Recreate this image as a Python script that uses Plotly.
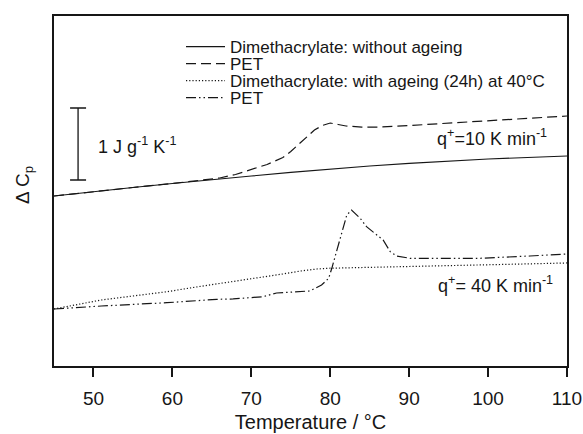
import plotly.graph_objects as go

# ---------------- data (ΔCp in J g^-1 K^-1, arbitrary offset) ----------------
T_dm10 = [45, 50, 55, 60, 65, 70, 75, 80, 85, 90, 95, 100, 105, 110]
cp_dm10 = [2.361, 2.424, 2.479, 2.535, 2.590, 2.639, 2.688, 2.736, 2.778, 2.813, 2.847, 2.875, 2.896, 2.917]

T_pet10 = [45, 50, 55, 60, 64, 66, 68, 70, 72, 73, 74, 75, 76, 77, 78, 79, 80, 81, 82, 84, 86, 90, 95, 100, 105, 110]
cp_pet10 = [2.361, 2.424, 2.479, 2.535, 2.579, 2.611, 2.660, 2.725, 2.799, 2.847, 2.896, 2.979, 3.078, 3.188,
            3.278, 3.340, 3.375, 3.354, 3.333, 3.319, 3.319, 3.340, 3.375, 3.403, 3.438, 3.472]

T_dm40 = [45, 51, 55, 59.3, 63, 67.7, 71, 74, 76.2, 78.3, 80, 82.5, 86.3, 90, 95, 100, 105, 110]
cp_dm40 = [0.792, 0.917, 0.972, 1.032, 1.097, 1.171, 1.229, 1.278, 1.319, 1.347, 1.358, 1.365, 1.368,
           1.379, 1.392, 1.406, 1.418, 1.431]

T_pet40 = [45, 51, 59.3, 65.6, 67.7, 69.8, 71.5, 73.2, 75.3, 77.4, 78.9, 79.8, 80.2, 80.6, 81.0, 81.45,
           82.1, 82.7, 83.8, 84.6, 85.9, 86.7, 87.6, 88.4, 90.1, 95, 99, 105.3, 110]
cp_pet40 = [0.792, 0.833, 0.879, 0.926, 0.931, 0.954, 0.963, 1.014, 1.032, 1.042, 1.125, 1.218, 1.357,
            1.518, 1.681, 1.865, 2.097, 2.167, 2.051, 1.935, 1.819, 1.750, 1.588, 1.528, 1.496, 1.493,
            1.496, 1.528, 1.556]

names = ["Dimethacrylate: without ageing", "PET",
         "Dimethacrylate: with ageing (24h) at 40°C", "PET"]

# scale bar: 1 J g^-1 K^-1
scale_T = [48.05]
scale_mid = [3.083]
scale_len = 1.0

x_ticks = [50, 60, 70, 80, 90, 100, 110]

FONT = "Liberation Sans, Arial, Helvetica, sans-serif"
INK = "#161616"

fig = go.Figure()
series = [
    (T_dm10, cp_dm10, "solid", "legend"),
    (T_pet10, cp_pet10, "10px,5px", "legend2"),
    (T_dm40, cp_dm40, "1.2px,2px", "legend3"),
    (T_pet40, cp_pet40, "10px,3px,1.5px,3px,1.5px,3px", "legend4"),
]
for (xs, ys, dash, lg), nm in zip(series, names):
    fig.add_trace(go.Scatter(x=xs, y=ys, mode="lines", name=nm, legend=lg,
                             line=dict(color=INK, width=1.2, dash=dash)))

fig.add_trace(go.Scatter(x=scale_T, y=scale_mid, mode="markers", showlegend=False,
                         marker=dict(size=1, color="rgba(0,0,0,0)"),
                         error_y=dict(type="constant", value=scale_len / 2, width=8,
                                      thickness=1.3, color=INK)))

# plot area px: x 54..567, y 16..366
def legend_cfg(ypx):
    return dict(x=(181 - 54) / 513, y=(366 - ypx) / 350, xanchor="left", yanchor="middle",
                bgcolor="rgba(0,0,0,0)", borderwidth=0, itemwidth=39,
                font=dict(family=FONT, size=17, color=INK))

fig.update_layout(
    width=583, height=434,
    margin=dict(l=54, r=16, t=16, b=68, autoexpand=False),
    paper_bgcolor="white", plot_bgcolor="white",
    font=dict(family=FONT, color=INK),
    legend=legend_cfg(47), legend2=legend_cfg(64), legend3=legend_cfg(81), legend4=legend_cfg(98),
    xaxis=dict(range=[45, 110], tickvals=x_ticks, ticks="outside", ticklen=9, tickwidth=1.5,
               tickcolor=INK, showline=True, linewidth=2, linecolor=INK, mirror=True,
               showgrid=False, zeroline=False, tickfont=dict(size=19, family=FONT, color=INK),
               ticklabelstandoff=5, automargin=False,
               title=dict(text="Temperature / °C", font=dict(size=20, family=FONT, color=INK),
                          standoff=7)),
    yaxis=dict(range=[0, 350 / 72], showticklabels=False, ticks="", showline=True, linewidth=2,
               linecolor=INK, mirror=True, showgrid=False, zeroline=False, automargin=False),
    annotations=[
        dict(text="Δ C<sub>p</sub>", xref="paper", yref="paper", x=(24 - 54) / 513,
             y=(366 - 185) / 350, textangle=-90, showarrow=False, xanchor="center",
             yanchor="middle", font=dict(size=19, family=FONT, color=INK)),
        dict(text="1 J g<sup>-1</sup> K<sup>-1</sup>", xref="x", yref="y", x=55.5, y=3.06,
             showarrow=False, font=dict(size=18, family=FONT, color=INK)),
        dict(text="q<sup>+</sup>=10 K min<sup>-1</sup>", xref="x", yref="y", x=100.5, y=3.17,
             showarrow=False, font=dict(size=18, family=FONT, color=INK)),
        dict(text="q<sup>+</sup>= 40 K min<sup>-1</sup>", xref="x", yref="y", x=101.0, y=1.13,
             showarrow=False, font=dict(size=18, family=FONT, color=INK)),
    ],
)

fig.write_html("out.html")
